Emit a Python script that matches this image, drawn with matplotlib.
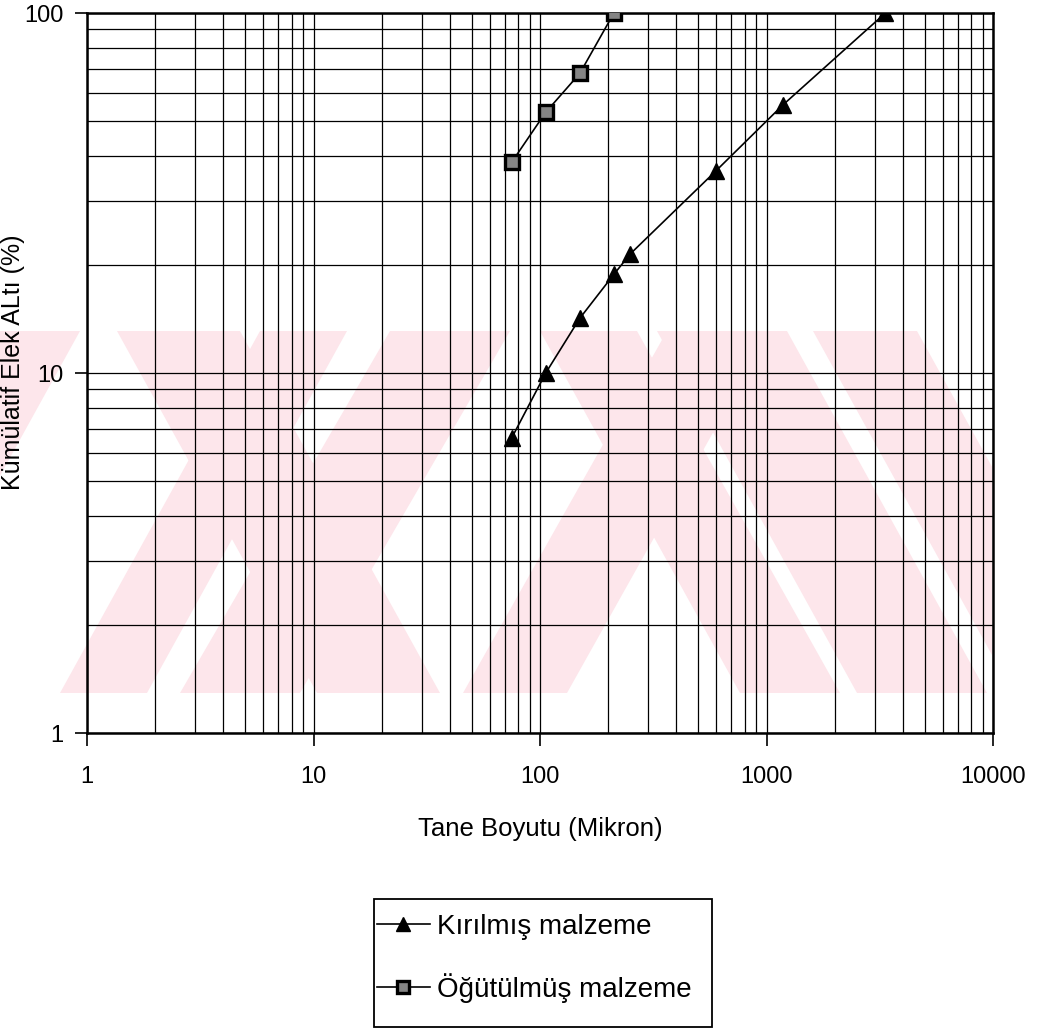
import matplotlib
matplotlib.use("Agg")
import matplotlib.pyplot as plt
from matplotlib.patches import Polygon, Rectangle
from matplotlib.ticker import FixedLocator, NullFormatter


# sieve analysis data
kirilmis_boyut = [75, 106, 150, 212, 250, 600, 1180, 3350]
kirilmis_yuzde = [6.6, 10.0, 14.2, 18.8, 21.4, 36.5, 55.5, 100]

ogutulmus_boyut = [75, 106, 150, 212]
ogutulmus_yuzde = [38.5, 53, 68, 100]

x_ticks = [1, 10, 100, 1000, 10000]
x_tick_labels = ["1", "10", "100", "1000", "10000"]
y_ticks = [1, 10, 100]
y_tick_labels = ["1", "10", "100"]

# faint pink watermark stripes on the scanned page, in page pixels
# (top x0, top x1, bottom x0, bottom x1)
watermark_stripes = [
    (117, 240, 317, 440),
    (540, 637, 740, 840),
    (657, 787, 857, 987),
    (813, 917, 1013, 1117),
    (390, 510, 180, 300),
    (667, 770, 463, 567),
    (260, 347, 60, 147),
    (-20, 80, -220, -120),
]
WM_TOP, WM_BOTTOM = 331, 693
W, H = 1044, 1035

FONT = ["Liberation Sans", "DejaVu Sans"]


def fx(px):
    return px / W


def fy(py):
    return 1 - py / H


def draw_watermark(fig):
    clip = Polygon([(0, fy(WM_TOP)), (fx(992), fy(WM_TOP)),
                    (fx(992), fy(WM_BOTTOM)), (0, fy(WM_BOTTOM))],
                   transform=fig.transFigure, facecolor="none", edgecolor="none")
    for t0, t1, b0, b1 in watermark_stripes:
        pts = [(fx(t0), fy(WM_TOP)), (fx(t1), fy(WM_TOP)),
               (fx(b1), fy(WM_BOTTOM)), (fx(b0), fy(WM_BOTTOM))]
        p = Polygon(pts, closed=True, transform=fig.transFigure,
                    facecolor="#fde6eb", edgecolor="none", zorder=-5)
        p.set_clip_path(clip)
        fig.patches.append(p)


def main():
    plt.rcParams["font.family"] = FONT

    fig = plt.figure(figsize=(10.44, 10.35), dpi=100)
    draw_watermark(fig)

    ax = fig.add_axes([fx(87), fy(733), 906 / W, 720 / H])
    ax.set_facecolor("none")
    ax.set_xscale("log")
    ax.set_yscale("log")
    ax.set_xlim(1, 10000)
    ax.set_ylim(1, 100)

    ax.plot(kirilmis_boyut, kirilmis_yuzde, color="black", linewidth=1.2,
            marker="^", markersize=12, markerfacecolor="black",
            markeredgecolor="black", label="Kırılmış malzeme", zorder=5)
    ax.plot(ogutulmus_boyut, ogutulmus_yuzde, color="black", linewidth=1.2,
            marker="s", markersize=10, markerfacecolor="#858585",
            markeredgecolor="black", markeredgewidth=2.4,
            label="Öğütülmüş malzeme", zorder=5)

    ax.xaxis.set_major_locator(FixedLocator(x_ticks))
    ax.set_xticklabels(x_tick_labels)
    ax.yaxis.set_major_locator(FixedLocator(y_ticks))
    ax.set_yticklabels(y_tick_labels)
    ax.xaxis.set_minor_formatter(NullFormatter())
    ax.yaxis.set_minor_formatter(NullFormatter())

    ax.tick_params(which="major", direction="out", length=9, width=1.2,
                   labelsize=17, colors="black")
    ax.tick_params(axis="x", which="major", pad=15)
    ax.tick_params(axis="y", which="major", pad=8)
    ax.tick_params(which="minor", length=0)

    ax.grid(True, which="both", color="black", linewidth=0.9)
    ax.set_axisbelow(True)
    for s in ax.spines.values():
        s.set_linewidth(1.8)
        s.set_color("black")

    ax.set_xlabel("Tane Boyutu (Mikron)", fontsize=18.5, labelpad=21)
    ax.set_ylabel("Kümülatif Elek ALtı (%)", fontsize=18)
    # anchor is the right edge of the rotated label
    ax.yaxis.set_label_coords((25 - 87) / 906, (733 - 362) / 720)

    # legend box as drawn in the scan
    fig.patches.append(Rectangle((fx(374), fy(1027)), (712 - 374) / W,
                                 (1027 - 899) / H, transform=fig.transFigure,
                                 facecolor="white", edgecolor="black",
                                 linewidth=1.3, zorder=2))
    leg = fig.legend(loc="upper left", bbox_to_anchor=(fx(377), fy(914)),
                     borderaxespad=0, fontsize=20, frameon=False,
                     handlelength=1.9, handletextpad=0.25, labelspacing=1.2,
                     borderpad=0, markerscale=0.85)
    leg.set_zorder(3)

    fig.savefig("out.png", dpi=100)
    plt.close(fig)


if __name__ == "__main__":
    main()
